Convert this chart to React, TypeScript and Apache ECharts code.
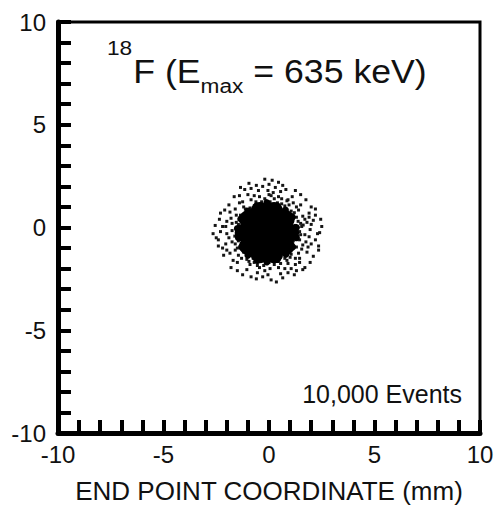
import React, { useEffect, useRef } from "react";
import * as echarts from "echarts";

const FONT = "'Liberation Sans', Arial, Helvetica, sans-serif";

const xTickLabels = [-10, -5, 0, 5, 10];
const yTickLabels = [-10, -5, 0, 5, 10];
const xAxisName = "END POINT COORDINATE (mm)";
const titleParts = { sup: "18", main1: "F (E", sub: "max", main2: " = 635 keV)" };
const eventsLabel = "10,000 Events";

// dense core of the end-point cloud (estimated)
const corePoints: number[][] = [
  [-0.1, -0.25], [0.5, -0.25], [-0.7, -0.25], [0.2, 0.27], [-0.4, 0.27], [0.2, -0.77], [-0.4, -0.77],
  [1.0, -0.25], [0.79, 0.4], [0.24, 0.8], [-0.44, 0.8], [-0.99, 0.4], [-1.2, -0.25],
  [-0.99, -0.9], [-0.44, -1.3], [0.24, -1.3], [0.79, -0.9],
];

// rim of the core (estimated)
const rimPoints: number[][] = [
  [1.3, 0.0], [1.1, 0.5], [0.78, 0.85], [0.4, 1.05], [-0.1, 1.2], [-0.6, 1.05], [-1.0, 0.8],
  [-1.33, 0.42], [-1.5, -0.05], [-1.45, -0.5], [-1.3, -0.95], [-1.0, -1.35], [-0.55, -1.6],
  [-0.1, -1.68], [0.4, -1.55], [0.8, -1.3], [1.12, -0.95], [1.3, -0.5],
];

// sparse halo of individual events (estimated)
const haloPoints: number[][] = [
  [1.45, -0.2], [1.7, -0.35], [1.95, -0.1], [2.3, -0.3], [1.55, 0.05],
  [1.5, 0.2], [1.8, 0.25], [2.1, 0.35], [2.45, 0.4],
  [1.3, 0.5], [1.6, 0.55], [1.9, 0.7], [2.2, 0.9],
  [1.05, 0.8], [1.3, 1.0], [1.5, 1.1], [1.75, 1.35],
  [0.75, 1.05], [0.9, 1.35], [1.1, 1.5], [1.25, 1.8],
  [0.4, 1.2], [0.45, 1.5], [0.55, 1.75], [0.65, 2.05],
  [0.05, 1.25], [0.1, 1.55], [-0.05, 1.8], [0.0, 2.1], [0.15, 2.3],
  [-0.35, 1.25], [-0.45, 1.5], [-0.5, 1.8], [-0.6, 2.05],
  [-0.7, 1.05], [-0.85, 1.35], [-1.0, 1.6], [-1.15, 1.85],
  [-1.0, 0.8], [-1.2, 1.0], [-1.4, 1.2], [-1.65, 1.5],
  [-1.3, 0.5], [-1.55, 0.6], [-1.85, 0.75], [-2.1, 0.85],
  [-1.45, 0.15], [-1.75, 0.2], [-2.0, 0.3], [-2.35, 0.4],
  [-1.5, -0.25], [-1.75, -0.15], [-2.0, -0.3], [-2.3, -0.2], [-2.65, -0.3],
  [-1.45, -0.65], [-1.75, -0.7], [-2.05, -0.8], [-2.4, -0.9],
  [-1.3, -0.95], [-1.6, -1.1], [-1.85, -1.25], [-2.15, -1.35],
  [-1.05, -1.3], [-1.3, -1.5], [-1.5, -1.7], [-1.8, -1.95],
  [-0.75, -1.5], [-0.9, -1.8], [-1.05, -2.05], [-1.25, -2.3],
  [-0.4, -1.65], [-0.45, -1.95], [-0.55, -2.2], [-0.6, -2.5],
  [0.0, -1.7], [0.05, -2.0], [-0.05, -2.3], [0.1, -2.55],
  [0.4, -1.65], [0.45, -1.95], [0.55, -2.25], [0.65, -2.45],
  [0.75, -1.5], [0.9, -1.75], [1.05, -2.0], [1.2, -2.3],
  [1.05, -1.3], [1.25, -1.5], [1.45, -1.7], [1.7, -1.95],
  [1.3, -0.95], [1.55, -1.05], [1.8, -1.2], [2.1, -1.4],
  [1.45, -0.6], [1.75, -0.7], [2.0, -0.8], [2.35, -0.9],
  [1.35, -0.45], [1.62, 0.12], [1.2, 0.72], [0.95, 1.1], [0.25, 1.4], [-0.2, 1.4],
  [-0.62, 1.25], [-1.12, 0.9], [-1.42, 0.38], [-1.62, -0.42], [-1.5, -1.0], [-0.95, -1.65],
  [-0.25, -1.85], [0.25, -1.8], [0.85, -1.6], [1.4, -1.25], [1.6, -0.85], [1.9, 0.5],
  [0.3, 1.95], [-0.3, 2.0], [-1.4, 1.55], [-2.2, 0.05], [-2.0, -1.1], [-0.3, -2.4],
  [0.9, -2.2], [2.2, -0.6], [1.5, 1.6], [-0.85, 1.9], [-1.9, 1.1], [-2.55, 0.1],
  [2.5, 0.05], [0.35, -2.65], [-0.85, -2.4], [1.95, -1.7], [-1.7, -1.6], [2.0, 1.0],
  [0.8, 1.85], [-0.2, 2.35], [1.3, -2.1], [-2.4, -0.6], [-1.35, 1.95], [2.35, -1.1],
  [0.0, 1.6], [-1.2, -0.75], [1.25, 0.1], [-1.25, 0.05], [0.1, -1.55], [1.15, -0.65],
  [1.38, 0.3], [1.15, 0.62], [0.6, 1.15], [-0.15, 1.3], [-0.9, 0.95], [-1.35, 0.6],
  [-1.55, 0.25], [-1.6, -0.8], [-1.2, -1.2], [-0.7, -1.7], [0.55, -1.75], [1.0, -1.45],
  [1.5, -0.35], [1.7, 0.4], [1.4, 0.85], [0.85, 1.3], [0.2, 1.7], [-0.7, 1.55],
  [-1.25, 1.25], [-1.8, 0.45], [-1.9, -0.5], [-1.45, -1.35], [-0.2, -2.1], [0.75, -2.0],
  [1.45, -1.5], [1.9, -0.45], [2.0, 0.15], [-2.05, 0.05], [-0.15, -1.6], [0.6, 1.4],
  [-0.55, -1.85], [1.15, 1.2], [-1.6, 0.9], [-1.05, -1.55], [1.25, -1.8], [1.85, -0.95],
  [-2.2, -1.0], [-2.5, -0.5], [2.2, 0.6], [-0.95, 2.15], [0.45, 2.2], [1.6, -2.05],
  [-1.5, -2.1], [-2.3, 0.7], [2.4, -0.25],
];

function measure(text: string, size: number): number {
  const c = document.createElement("canvas").getContext("2d");
  if (!c) return text.length * size * 0.55;
  c.font = `${size}px ${FONT}`;
  return c.measureText(text).width;
}

export default function App() {
  const ref = useRef<HTMLDivElement>(null);

  useEffect(() => {
    if (!ref.current) return;
    const chart = echarts.init(ref.current, undefined, { renderer: "svg" });

    const mainSize = 33;
    const smallSize = 21;
    const wSup = measure(titleParts.sup, smallSize);
    const wMain1 = measure(titleParts.main1, mainSize);
    const wSub = measure(titleParts.sub, smallSize);
    const x1 = wSup + 1;
    const x2 = x1 + wMain1;
    const x3 = x2 + wSub;

    const axisCommon = (labels: number[], margin: number) => ({
      type: "value" as const,
      min: -10,
      max: 10,
      interval: 1,
      axisLine: { show: true, onZero: false, lineStyle: { color: "#000", width: 5 } },
      axisTick: { show: true, inside: true, length: 13, lineStyle: { color: "#000", width: 4 } },
      splitLine: { show: false },
      axisLabel: {
        color: "#111",
        fontSize: 24,
        fontFamily: FONT,
        margin,
        formatter: (v: number) => (labels.includes(v) ? String(v) : ""),
      },
    });

    const dot = { color: "#000", opacity: 1 };

    chart.setOption({
      animation: false,
      backgroundColor: "#fff",
      grid: {
        left: 58,
        right: 20,
        top: 22,
        bottom: 76,
        show: true,
        borderColor: "#000",
        borderWidth: 3,
        backgroundColor: "transparent",
      },
      xAxis: {
        ...axisCommon(xTickLabels, 9),
        name: xAxisName,
        nameLocation: "middle",
        nameGap: 45,
        nameTextStyle: { color: "#111", fontSize: 26, fontFamily: FONT },
      },
      yAxis: axisCommon(yTickLabels, 12),
      series: [
        {
          type: "scatter",
          symbol: "rect",
          symbolSize: 3,
          itemStyle: { ...dot, color: "#151515" },
          data: haloPoints,
        },
        {
          type: "scatter",
          symbol: "circle",
          symbolSize: 7,
          itemStyle: dot,
          data: rimPoints,
        },
        {
          type: "scatter",
          symbol: "circle",
          symbolSize: 18,
          itemStyle: dot,
          data: corePoints,
        },
      ],
      graphic: [
        {
          type: "group",
          x: 107,
          y: 0,
          scaleX: 1.08,
          children: [
            {
              type: "text",
              x: 0,
              y: 47.5,
              style: { text: titleParts.sup, fontSize: smallSize, fontFamily: FONT, fill: "#111", verticalAlign: "middle", align: "left" },
            },
            {
              type: "text",
              x: x1,
              y: 71.5,
              style: { text: titleParts.main1, fontSize: mainSize, fontFamily: FONT, fill: "#111", verticalAlign: "middle", align: "left" },
            },
            {
              type: "text",
              x: x2,
              y: 86,
              style: { text: titleParts.sub, fontSize: smallSize, fontFamily: FONT, fill: "#111", verticalAlign: "middle", align: "left" },
            },
            {
              type: "text",
              x: x3,
              y: 71.5,
              style: { text: titleParts.main2, fontSize: mainSize, fontFamily: FONT, fill: "#111", verticalAlign: "middle", align: "left" },
            },
          ],
        },
        {
          type: "text",
          x: 462,
          y: 394,
          style: { text: eventsLabel, fontSize: 25, fontFamily: FONT, fill: "#111", verticalAlign: "middle", align: "right" },
        },
      ],
    });

    return () => chart.dispose();
  }, []);

  return (
    <div
      ref={ref}
      style={{ position: "fixed", left: 0, top: 0, width: 500, height: 509, background: "#fff" }}
    />
  );
}
